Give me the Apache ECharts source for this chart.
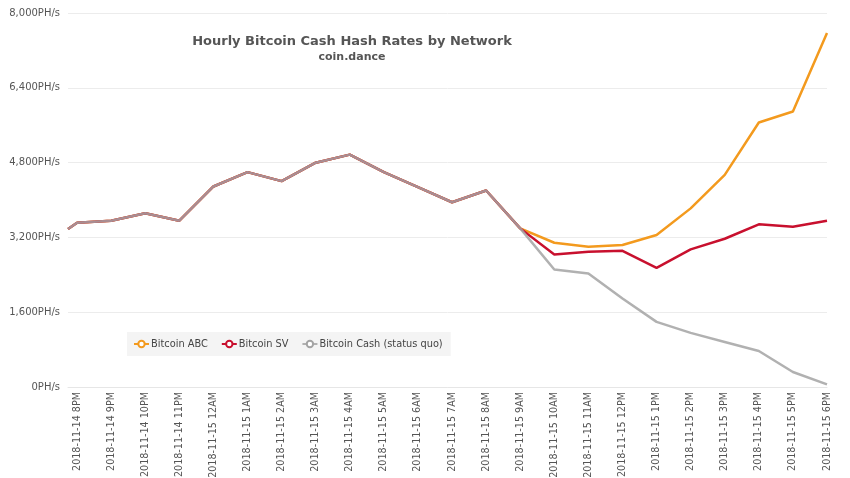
<!DOCTYPE html>
<html>
<head>
<meta charset="utf-8">
<script src="https://cdn.jsdelivr.net/npm/echarts@6/dist/echarts.min.js"></script>
<style>
  html, body { margin: 0; padding: 0; background: #fff; }
  #main { width: 850px; height: 478px; }
</style>
</head>
<body>
<div id="main"></div>
<script>
// sample times (first one is the partial start before 8PM)
var times = [
  '2018-11-14 19:44', '2018-11-14 20:00', '2018-11-14 21:00', '2018-11-14 22:00',
  '2018-11-14 23:00', '2018-11-15 00:00', '2018-11-15 01:00', '2018-11-15 02:00',
  '2018-11-15 03:00', '2018-11-15 04:00', '2018-11-15 05:00', '2018-11-15 06:00',
  '2018-11-15 07:00', '2018-11-15 08:00', '2018-11-15 09:00', '2018-11-15 10:00',
  '2018-11-15 11:00', '2018-11-15 12:00', '2018-11-15 13:00', '2018-11-15 14:00',
  '2018-11-15 15:00', '2018-11-15 16:00', '2018-11-15 17:00', '2018-11-15 18:00'
];

var abc = [3380, 3515, 3558, 3716, 3558, 4289, 4597, 4404, 4798, 4970, 4597, 4275,
  3952, 4203, 3393, 3086, 3000, 3036, 3250, 3821, 4536, 5657, 5893, 7571];
var sv = [3380, 3515, 3558, 3716, 3558, 4289, 4597, 4404, 4798, 4970, 4597, 4275,
  3952, 4203, 3393, 2836, 2893, 2914, 2550, 2943, 3171, 3479, 3429, 3557];
var cash = [3380, 3515, 3558, 3716, 3558, 4289, 4597, 4404, 4798, 4970, 4597, 4275,
  3952, 4203, 3393, 2514, 2429, 1893, 1393, 1157, 964, 771, 321, 57];

var names = ['Bitcoin ABC', 'Bitcoin SV', 'Bitcoin Cash (status quo)'];
var colors = ['#f39a1e', '#c8102e', '#a3a3a3'];

function toTime(s) {
  var p = s.split(/[- :]/);
  return new Date(+p[0], +p[1] - 1, +p[2], +p[3], +p[4]).getTime();
}
function pairs(vals) {
  return vals.map(function (v, i) { return [toTime(times[i]), v]; });
}
function pad(n) { return n < 10 ? '0' + n : '' + n; }

var font = 'DejaVu Sans';
var myChart = echarts.init(document.getElementById('main'));

var option = {
  animation: false,
  color: colors,
  title: {
    text: 'Hourly Bitcoin Cash Hash Rates by Network',
    subtext: 'coin.dance',
    left: 347,
    top: 30,
    textAlign: 'center',
    itemGap: 4,
    textStyle: { fontFamily: font, fontSize: 13, fontWeight: 'bold', color: '#555' },
    subtextStyle: { fontFamily: font, fontSize: 11, fontWeight: 'bold', color: '#555' }
  },
  legend: {
    data: names,
    left: 127,
    top: 332,
    padding: [7, 8, 7, 6],
    backgroundColor: '#f4f4f4',
    itemWidth: 15,
    itemHeight: 8,
    itemGap: 13,
    textStyle: { fontFamily: font, fontSize: 9.8, color: '#444', padding: [0, 0, 0, -3] }
  },
  grid: { left: 68, right: 23, top: 13, bottom: 91, outerBoundsMode: 'none' },
  xAxis: {
    type: 'time',
    min: toTime(times[0]),
    max: toTime(times[times.length - 1]),
    minInterval: 3600 * 1000,
    maxInterval: 3600 * 1000,
    axisLine: { show: true, lineStyle: { color: '#e6e6e6' } },
    axisTick: { show: false },
    splitLine: { show: false },
    axisLabel: {
      rotate: 90,
      margin: 5,
      fontFamily: font,
      fontSize: 9.6,
      color: '#555',
      formatter: function (val) {
        var d = new Date(val);
        if (d.getMinutes() !== 0) return '';
        var h = d.getHours();
        var hh = (h % 12 === 0 ? 12 : h % 12) + (h < 12 ? 'AM' : 'PM');
        return d.getFullYear() + '-' + pad(d.getMonth() + 1) + '-' + pad(d.getDate()) + ' ' + hh;
      }
    }
  },
  yAxis: {
    type: 'value',
    min: 0,
    max: 8000,
    interval: 1600,
    axisLine: { show: false },
    axisTick: { show: false },
    splitLine: { lineStyle: { color: '#ececec' } },
    axisLabel: {
      margin: 8,
      fontFamily: font,
      fontSize: 10,
      color: '#555',
      formatter: function (v) { return v.toLocaleString('en-US') + 'PH/s'; }
    }
  },
  series: [
    { name: names[0], type: 'line', data: pairs(abc), symbol: 'emptyCircle', showSymbol: false,
      lineStyle: { width: 2.5 } },
    { name: names[1], type: 'line', data: pairs(sv), symbol: 'emptyCircle', showSymbol: false,
      lineStyle: { width: 2.5 } },
    { name: names[2], type: 'line', data: pairs(cash), symbol: 'emptyCircle', showSymbol: false,
      lineStyle: { width: 2.5, opacity: 0.85 } }
  ]
};

myChart.setOption(option);
</script>
</body>
</html>
